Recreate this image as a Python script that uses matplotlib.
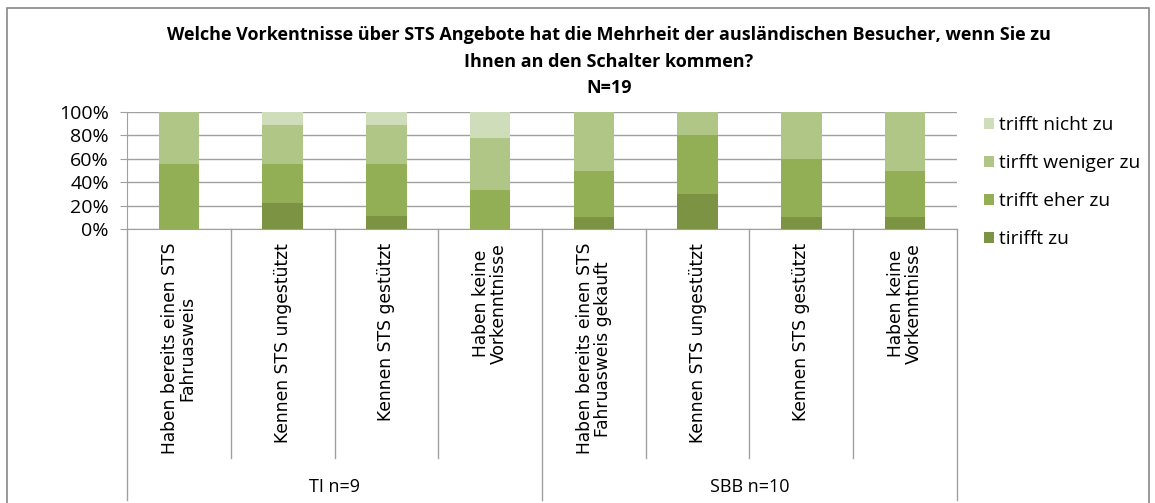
import matplotlib.pyplot as plt
from matplotlib.patches import Rectangle, Patch

# categories and groups
categories = ['Haben bereits einen STS\nFahruasweis', 'Kennen STS ungestützt', 'Kennen STS gestützt',
              'Haben keine\nVorkenntnisse', 'Haben bereits einen STS\nFahruasweis gekauft',
              'Kennen STS ungestützt', 'Kennen STS gestützt', 'Haben keine\nVorkenntnisse']
groups = ['TI n=9', 'SBB n=10']

# percent shares per answer (bottom to top)
tirifft_zu = [0, 22.2, 11.1, 0, 10, 30, 10, 10]
trifft_eher_zu = [55.6, 33.3, 44.4, 33.3, 40, 50, 50, 40]
tirfft_weniger_zu = [44.4, 33.3, 33.3, 44.4, 50, 20, 40, 50]
trifft_nicht_zu = [0, 11.1, 11.1, 22.2, 0, 0, 0, 0]

series = [tirifft_zu, trifft_eher_zu, tirfft_weniger_zu, trifft_nicht_zu]
names = ['tirifft zu', 'trifft eher zu', 'tirfft weniger zu', 'trifft nicht zu']
colors = ['#7b9343', '#93af55', '#b0c687', '#cfddbb']

plt.rcParams['font.family'] = ['Open Sans', 'DejaVu Sans']

W, H = 1155, 503
fig = plt.figure(figsize=(W / 100, H / 100), dpi=100)
ax = fig.add_axes([127 / W, (H - 229) / H, (957 - 127) / W, (229 - 112) / H])

x = list(range(len(categories)))
bottom = [0] * len(categories)
for vals, name, col in zip(series, names, colors):
    ax.bar(x, vals, width=0.39, bottom=bottom, color=col, label=name, zorder=3)
    bottom = [b + v for b, v in zip(bottom, vals)]

ax.set_xlim(-0.5, len(categories) - 0.5)
ax.set_ylim(0, 100)
ax.set_yticks(range(0, 101, 20))
ax.set_yticklabels([f'{v}%' for v in range(0, 101, 20)], fontsize=14)
ax.set_xticks([])
ax.grid(axis='y', color='#a0a0a0', lw=1, zorder=0)
for s in ['top', 'right']:
    ax.spines[s].set_visible(False)
ax.spines['left'].set_color('#a0a0a0')
ax.spines['bottom'].set_color('#a0a0a0')
ax.tick_params(axis='y', length=5, color='#a0a0a0', pad=8)

# category separators and labels below the axis
ph = 229 - 112
def yax(py):
    return (229 - py) / ph
tr = ax.get_xaxis_transform()
for i in range(len(categories) + 1):
    b = i - 0.5
    outer = i in (0, 4, len(categories))
    ax.plot([b, b], [0, yax(500 if outer else 458)], transform=tr, color='#a0a0a0',
            lw=1, clip_on=False)
for i, lab in enumerate(categories):
    ax.text(i, yax(243), lab, transform=tr, rotation=90, ha='center', va='top',
            fontsize=12.3, family='DejaVu Sans', linespacing=1.0, color='black')
for j, g in enumerate(groups):
    ax.text(j * 4 + 1.5, yax(487), g, transform=tr, ha='center', va='center', fontsize=13)

# title
fig.text(609 / W, 1 - 35 / H, 'Welche Vorkentnisse über STS Angebote hat die Mehrheit der ausländischen Besucher, wenn Sie zu',
         ha='center', va='center', fontsize=13, fontweight='bold')
fig.text(609 / W, 1 - 62 / H, 'Ihnen an den Schalter kommen?', ha='center', va='center',
         fontsize=13, fontweight='bold')
fig.text(609 / W, 1 - 88 / H, 'N=19', ha='center', va='center', fontsize=13, fontweight='bold')

# legend
handles = [Patch(facecolor=c, label=n) for c, n in zip(colors, names)][::-1]
fig.legend(handles=handles, loc='upper left', bbox_to_anchor=(984 / W, 1 - 116 / H),
           frameon=False, fontsize=13.8, handlelength=0.5, handleheight=0.5,
           handletextpad=0.3, labelspacing=1.05, borderaxespad=0, borderpad=0)

# chart border
fig.patches.append(Rectangle((7 / W, -0.01), (1149 - 7) / W, 1 - 8 / H + 0.01, transform=fig.transFigure,
                             fill=False, edgecolor='#888888', lw=1.2))

fig.savefig('out.png', dpi=100)
